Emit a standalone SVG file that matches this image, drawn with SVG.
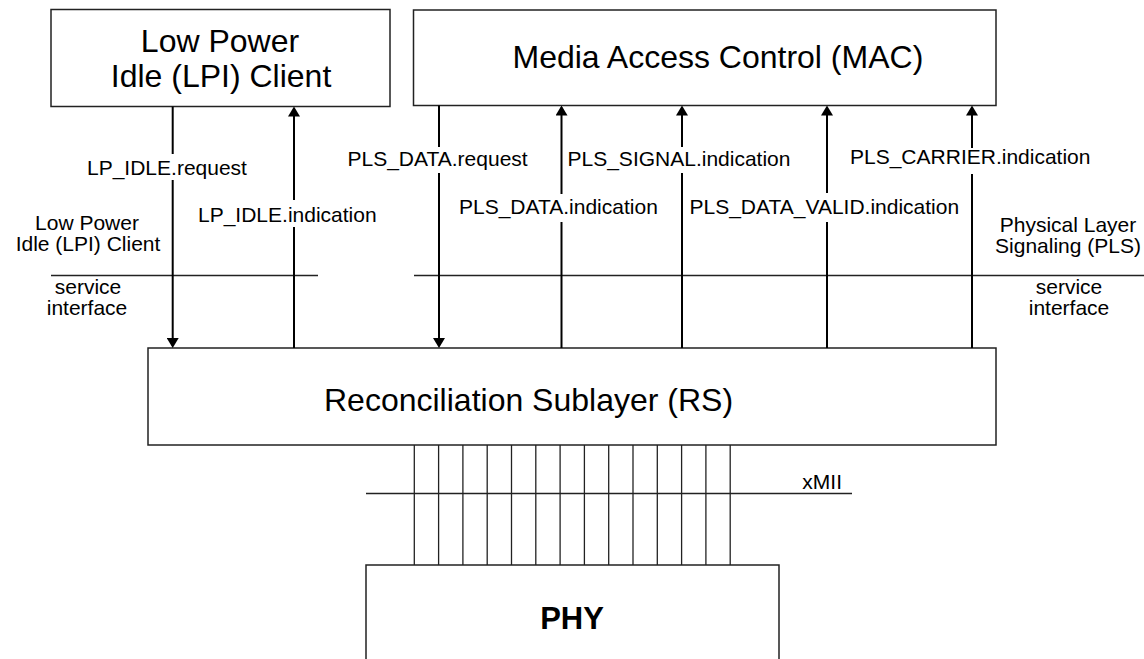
<svg xmlns="http://www.w3.org/2000/svg" width="1144" height="659" viewBox="0 0 1144 659">
  <style>
    .box { fill: #ffffff; stroke: #222222; stroke-width: 1.5; }
    .title { font-family: "Liberation Sans", Arial, sans-serif; font-size: 32px; fill: #000000; }
    .bold { font-family: "Liberation Sans", Arial, sans-serif; font-size: 31px; font-weight: bold; fill: #000000; }
    .lbl { font-family: "Liberation Sans", Arial, sans-serif; font-size: 21px; fill: #000000; }
    .mid { text-anchor: middle; }
    .arrow { stroke: #000000; stroke-width: 2; fill: none; }
    .thin { stroke: #222222; stroke-width: 1.3; fill: none; }
  </style>
  <defs>
    <marker id="ah" viewBox="0 0 10 12" refX="8" refY="6" markerWidth="10" markerHeight="12" markerUnits="userSpaceOnUse" orient="auto">
      <path d="M0,0 L10,6 L0,12 z" fill="#000000"/>
    </marker>
  </defs>
  <rect width="1144" height="659" fill="#ffffff"/>

  <g id="lpi-client">
    <rect class="box" x="51" y="9.5" width="339" height="97"/>
    <text class="title mid" x="220" y="52">Low Power</text>
    <text class="title mid" x="221" y="87">Idle (LPI) Client</text>
  </g>

  <g id="mac">
    <rect class="box" x="413.5" y="10" width="582.5" height="95.5"/>
    <text class="title" x="512.5" y="68">Media Access Control (MAC)</text>
  </g>

  <g id="rs">
    <rect class="box" x="148" y="348" width="848" height="97"/>
    <text class="title" x="324" y="411">Reconciliation Sublayer (RS)</text>
  </g>

  <g id="phy">
    <path class="box" d="M366,660 L366,565 L779,565 L779,660"/>
    <text class="bold mid" x="572" y="629">PHY</text>
  </g>

  <g id="interfaces">
    <line class="thin" x1="51" y1="275.5" x2="318" y2="275.5"/>
    <line class="thin" x1="414" y1="275.5" x2="1144" y2="275.5"/>
    <line class="thin" x1="366" y1="493.5" x2="852" y2="493.5"/>
    <text class="lbl mid" x="87" y="230">Low Power</text>
    <text class="lbl mid" x="88" y="251">Idle (LPI) Client</text>
    <text class="lbl mid" x="88" y="294">service</text>
    <text class="lbl mid" x="87" y="315">interface</text>
    <text class="lbl mid" x="1068" y="232">Physical Layer</text>
    <text class="lbl mid" x="1068" y="253">Signaling (PLS)</text>
    <text class="lbl mid" x="1069" y="294">service</text>
    <text class="lbl mid" x="1069" y="315">interface</text>
    <text class="lbl" x="842" y="489" text-anchor="end">xMII</text>
  </g>

  <g id="connectors">
    <!-- LP_IDLE.request (down) -->
    <line class="arrow" x1="172.7" y1="106.5" x2="172.7" y2="154"/>
    <line class="arrow" x1="172.7" y1="180" x2="172.7" y2="346" marker-end="url(#ah)"/>
    <!-- LP_IDLE.indication (up) -->
    <line class="arrow" x1="294" y1="348" x2="294" y2="227"/>
    <line class="arrow" x1="294" y1="200" x2="294" y2="108.5" marker-end="url(#ah)"/>
    <!-- PLS_DATA.request (down) -->
    <line class="arrow" x1="439" y1="105.5" x2="439" y2="147"/>
    <line class="arrow" x1="439" y1="173" x2="439" y2="346" marker-end="url(#ah)"/>
    <!-- PLS_DATA.indication (up) -->
    <line class="arrow" x1="561.5" y1="348" x2="561.5" y2="222"/>
    <line class="arrow" x1="561.5" y1="194" x2="561.5" y2="107.5" marker-end="url(#ah)"/>
    <!-- PLS_SIGNAL.indication (up) -->
    <line class="arrow" x1="682" y1="348" x2="682" y2="173"/>
    <line class="arrow" x1="682" y1="147" x2="682" y2="107.5" marker-end="url(#ah)"/>
    <!-- PLS_DATA_VALID.indication (up) -->
    <line class="arrow" x1="827" y1="348" x2="827" y2="222"/>
    <line class="arrow" x1="827" y1="193" x2="827" y2="107.5" marker-end="url(#ah)"/>
    <!-- PLS_CARRIER.indication (up) -->
    <line class="arrow" x1="972" y1="348" x2="972" y2="174"/>
    <line class="arrow" x1="972" y1="148" x2="972" y2="107.5" marker-end="url(#ah)"/>

    <text class="lbl" x="87" y="175">LP_IDLE.request</text>
    <text class="lbl" x="198" y="222">LP_IDLE.indication</text>
    <text class="lbl" x="347.5" y="166">PLS_DATA.request</text>
    <text class="lbl" x="567.5" y="166">PLS_SIGNAL.indication</text>
    <text class="lbl" x="850" y="164">PLS_CARRIER.indication</text>
    <text class="lbl" x="459" y="214">PLS_DATA.indication</text>
    <text class="lbl" x="689.5" y="214">PLS_DATA_VALID.indication</text>

    <!-- xMII signal lines -->
    <g class="thin">
      <line x1="414.3" y1="445" x2="414.3" y2="565"/>
      <line x1="438.6" y1="445" x2="438.6" y2="565"/>
      <line x1="462.9" y1="445" x2="462.9" y2="565"/>
      <line x1="487.2" y1="445" x2="487.2" y2="565"/>
      <line x1="511.5" y1="445" x2="511.5" y2="565"/>
      <line x1="535.8" y1="445" x2="535.8" y2="565"/>
      <line x1="560.1" y1="445" x2="560.1" y2="565"/>
      <line x1="584.4" y1="445" x2="584.4" y2="565"/>
      <line x1="608.7" y1="445" x2="608.7" y2="565"/>
      <line x1="633.0" y1="445" x2="633.0" y2="565"/>
      <line x1="657.3" y1="445" x2="657.3" y2="565"/>
      <line x1="681.6" y1="445" x2="681.6" y2="565"/>
      <line x1="705.9" y1="445" x2="705.9" y2="565"/>
      <line x1="730.2" y1="445" x2="730.2" y2="565"/>
    </g>
  </g>
</svg>
